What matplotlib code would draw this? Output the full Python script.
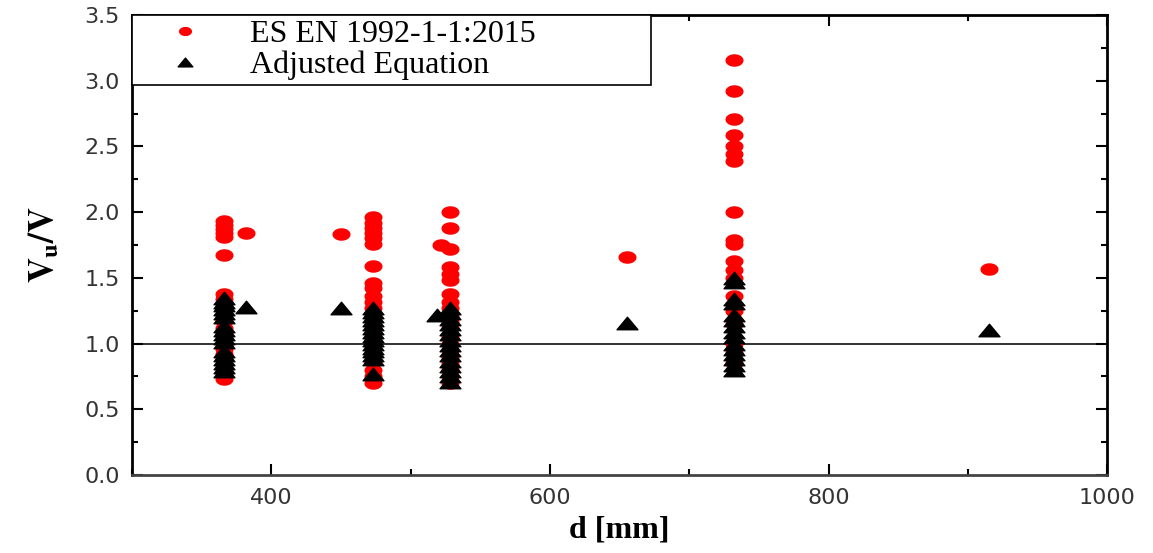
import numpy as np
import matplotlib
matplotlib.use("Agg")
import matplotlib.pyplot as plt
from matplotlib.path import Path

plt.rcParams['mathtext.fontset'] = 'stix'

# V/V ratios per beam depth d [mm]
es_366 = [1.93, 1.90, 1.87, 1.84, 1.81, 1.67, 1.38, 1.34, 1.30, 1.26, 1.22, 1.17,
          1.12, 1.08, 1.04, 1.00, 0.96, 0.92, 0.88, 0.84, 0.80, 0.76, 0.73]
adj_366 = [1.35, 1.32, 1.29, 1.26, 1.23, 1.20, 1.13, 1.10, 1.07, 1.04, 1.01, 0.94,
           0.91, 0.88, 0.85, 0.82, 0.79]
es_382 = [1.84]
adj_382 = [1.28]
es_450 = [1.83]
adj_450 = [1.27]
es_473 = [1.96, 1.92, 1.88, 1.84, 1.80, 1.76, 1.59, 1.46, 1.42, 1.36, 1.32, 1.27,
          1.22, 1.17, 1.12, 1.07, 1.02, 0.97, 0.92, 0.87, 0.80, 0.75, 0.70]
adj_473 = [1.27, 1.24, 1.21, 1.18, 1.15, 1.12, 1.09, 1.06, 1.03, 1.00, 0.97, 0.94,
           0.91, 0.88, 0.77]
es_522 = [1.75]
adj_519 = [1.22]
es_528 = [2.00, 1.88, 1.72, 1.58, 1.53, 1.48, 1.38, 1.32, 1.27, 1.22, 1.17, 1.12,
          1.06, 1.00, 0.95, 0.90, 0.85, 0.80, 0.75, 0.70]
adj_528 = [1.27, 1.23, 1.19, 1.15, 1.11, 1.07, 1.03, 0.99, 0.95, 0.91, 0.87, 0.83,
           0.79, 0.75, 0.71]
es_655 = [1.66]
adj_655 = [1.16]
es_732 = [3.16, 2.92, 2.71, 2.59, 2.50, 2.44, 2.39, 2.00, 1.79, 1.76, 1.63, 1.56,
          1.50, 1.36, 1.25, 1.15, 1.00, 0.93, 0.85]
adj_732 = [1.50, 1.47, 1.34, 1.31, 1.22, 1.18, 1.13, 1.09, 1.05, 1.00, 0.96, 0.92,
           0.88, 0.84, 0.80]
es_915 = [1.57]
adj_915 = [1.10]

es_groups = [(366, es_366), (382, es_382), (450, es_450), (473, es_473),
             (522, es_522), (528, es_528), (655, es_655), (732, es_732), (915, es_915)]
adj_groups = [(366, adj_366), (382, adj_382), (450, adj_450), (473, adj_473),
              (519, adj_519), (528, adj_528), (655, adj_655), (732, adj_732), (915, adj_915)]

def flatten(groups):
    xs, ys = [], []
    for d, vals in groups:
        xs += [d] * len(vals)
        ys += vals
    return xs, ys

es_x, es_y = flatten(es_groups)
adj_x, adj_y = flatten(adj_groups)

# wide markers
t = np.linspace(0, 2 * np.pi, 40)
ellipse = Path(np.column_stack([1.5 * np.cos(t), np.sin(t)]), closed=True)
tri = Path([(-1.0, -0.6), (1.0, -0.6), (0.0, 0.6), (-1.0, -0.6)], closed=True)

fig = plt.figure(figsize=(11.53, 5.53), dpi=100)
ax = fig.add_axes([0.1145, 0.141, 0.846, 0.832])

ax.axhline(1.0, color='#222222', lw=1.3, zorder=1)
ax.plot(es_x, es_y, ls='none', marker=ellipse, ms=12, color='red', mec='red',
        label='ES EN 1992-1-1:2015', zorder=2)
ax.plot(adj_x, adj_y, ls='none', marker=tri, ms=15, color='black', mec='black',
        label='Adjusted Equation', zorder=3)

ax.set_xlim(300, 1000)
ax.set_ylim(0, 3.5)
ax.set_xticks([400, 600, 800, 1000])
ax.set_xticks([300, 500, 700, 900], minor=True)
ax.set_yticks(np.arange(0, 3.51, 0.5))
ax.set_yticks(np.arange(0.25, 3.5, 0.5), minor=True)
ax.yaxis.set_major_formatter(matplotlib.ticker.FormatStrFormatter('%.1f'))

ax.tick_params(which='both', direction='in', top=True, right=True, width=1.5,
               labelsize=16, labelcolor='#333333', pad=9)
ax.tick_params(which='major', length=8)
ax.tick_params(which='minor', length=4)
for lab in ax.get_xticklabels() + ax.get_yticklabels():
    lab.set_family('DejaVu Sans')
for s in ax.spines.values():
    s.set_linewidth(2)
    s.set_color('black')
ax.spines['bottom'].set_color('#444444')

ax.set_xlabel('d [mm]', family='Liberation Serif', fontweight='bold', fontsize=23, labelpad=6)
ax.set_ylabel(r'$\mathbf{V_u/V}$', fontsize=25, labelpad=17)

leg = ax.legend(loc='upper left', bbox_to_anchor=(0, 0.852, 0.532, 0.148), mode='expand',
                borderaxespad=0, prop={'family': 'Liberation Serif', 'size': 23},
                fancybox=False, framealpha=1, edgecolor='black', handletextpad=0.55,
                handlelength=3.0, borderpad=0.15, labelspacing=0.05, markerscale=0.7)
leg.get_frame().set_linewidth(1.2)

fig.savefig('out.png', dpi=100)
